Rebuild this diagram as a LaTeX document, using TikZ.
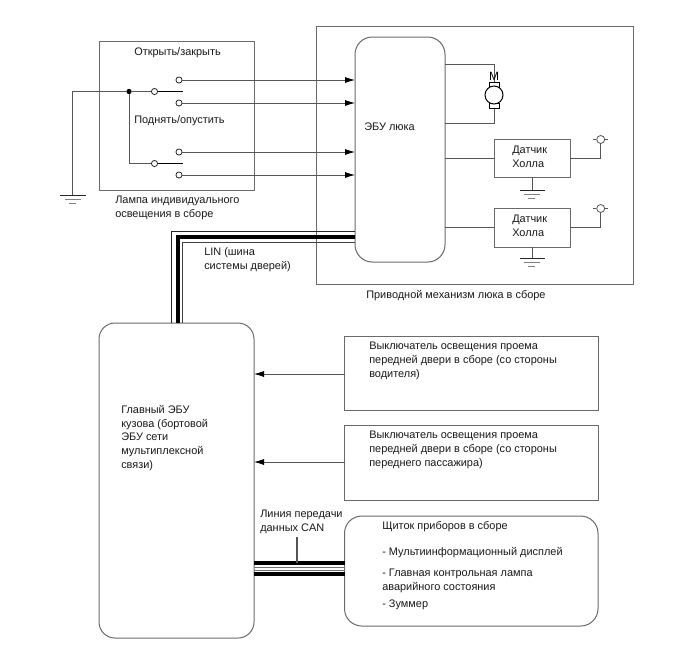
\documentclass[tikz,border=0pt]{standalone}
\usepackage{fontspec}
\setmainfont{Liberation Sans}
\usetikzlibrary{arrows.meta}
\definecolor{wire}{HTML}{555555}
\definecolor{frame}{HTML}{6A6A6A}
\tikzset{
  x=0.75pt, y=-0.75pt,
  lbl/.style={anchor=west, inner sep=0pt, align=left, text=black!90,
    font=\fontsize{8.2}{10.4}\selectfont},
  box/.style={draw=frame, line width=0.75pt, fill=white, anchor=north west, inner sep=0pt, outer sep=0pt},
  conn/.style={draw=wire, line width=0.6pt},
  sig/.style={conn, -{Latex[length=7.5pt,width=4.5pt,black]}},
  contact/.style={circle, draw=black!85, fill=white, line width=0.6pt, minimum size=4.6pt, inner sep=0pt},
  blade/.style={draw=black, line width=1.1pt},
  heavy/.style={draw=black, line width=3pt},
  gnd/.style={draw=black!85, line width=0.75pt},
  gndb/.style={draw=black!50, line width=0.6pt},
}
\newcommand{\boxat}[6][]{\node[box,#1,minimum width=#4*0.75pt,minimum height=#5*0.75pt] (#6) at (#2,#3) {};}
\begin{document}
\begin{tikzpicture}
\useasboundingbox (0,0) rectangle (688,658);
\fill[white] (0,0) rectangle (688,658);

% enclosures
\boxat{316}{26}{317}{258}{drive}
\boxat{99.5}{41}{154.5}{149}{lamp}
\boxat[rounded corners=13pt]{355}{37}{90}{225}{ecu}
\boxat[rounded corners=12pt]{99}{323}{155}{315}{bcm}
\boxat{344.5}{336}{253.5}{74}{doorA}
\boxat{344.5}{425}{253.5}{75}{doorB}
\boxat[rounded corners=13pt]{344.5}{516}{253.5}{110}{meter}
\boxat{494}{139}{76}{38}{hallA}
\boxat{494}{208}{76}{39}{hallB}

% lamp switches
\node[circle,fill=black,inner sep=0pt,minimum size=4pt] (junction) at (129,91.5) {};
\node[contact] (swA) at (154.5,91.5) {};
\node[contact] (swB) at (154.5,163.5) {};
\node[contact] (upA) at (179,80) {};
\node[contact] (dnA) at (179,103) {};
\node[contact] (upB) at (179,152) {};
\node[contact] (dnB) at (179,175) {};
\coordinate (bladeA) at (182.5,91.5);
\coordinate (bladeB) at (182.5,163.5);
\coordinate (lampGnd) at (72.5,195.5);
\draw[conn] (lampGnd) |- (junction);
\draw[conn] (junction) -- (swA);
\draw[conn] (junction) |- (swB);
\draw[blade] (swA) -- (bladeA);
\draw[blade] (swB) -- (bladeB);
\foreach \c in {upA,dnA,upB,dnB}
  \draw[sig] (\c) -- (\c -| ecu.west);

% earth symbols
\draw[gnd] (60,195.5) -- (86,195.5);
\draw[gndb] (65,199.5) -- (81,199.5);
\draw[gndb] (69,203.5) -- (76,203.5);

% motor
\node[draw=black,fill=white,line width=0.75pt,minimum width=10pt*0.75,minimum height=5pt*0.75,inner sep=0pt] (brushT) at (494,84.5) {};
\node[draw=black,fill=white,line width=0.75pt,minimum width=10pt*0.75,minimum height=5pt*0.75,inner sep=0pt] (brushB) at (494,105.5) {};
\node[circle,draw=black,fill=white,line width=0.75pt,minimum size=13.5pt,inner sep=0pt] (motor) at (494,95) {};
\coordinate (motorTop) at (ecu.east |- 0,64.7);
\coordinate (motorBot) at (ecu.east |- 0,123);
\draw[conn] (motorTop) -| (brushT.north);
\draw[conn] (motorBot) -| (brushB.south);
\node[inner sep=0pt,font=\fontsize{9}{10}\selectfont] (motorM) at (494,76.5) {M};

% Hall sensors
\node[circle,draw=wire,fill=white,line width=0.6pt,minimum size=6pt,inner sep=0pt] (supA) at (600.7,139.5) {};
\node[circle,draw=wire,fill=white,line width=0.6pt,minimum size=6pt,inner sep=0pt] (supB) at (600.7,208.5) {};
\draw[conn] (hallA.west) -- (hallA.west -| ecu.east);
\draw[conn] (hallB.west) -- (hallB.west -| ecu.east);
\draw[conn] (hallA.east) -| (supA.south);
\draw[conn] (hallB.east) -| (supB.south);
\draw[conn] (593,139.5) -- (supA.west) (supA.east) -- (608,139.5);
\draw[conn] (593,208.5) -- (supB.west) (supB.east) -- (608,208.5);
\draw[conn] (hallA.south -| 532,0) -- (532,190.5);
\draw[conn] (hallB.south -| 532,0) -- (532,258.5);
\foreach \g in {190.5,258.5}{
  \draw[gnd] (520,\g) -- (545,\g);
  \draw[gndb] (524,\g+3.8) -- (540,\g+3.8);
  \draw[gndb] (528,\g+7.5) -- (535,\g+7.5);
}

% LIN bus
\coordinate (linA) at (171.7,231);
\coordinate (linB) at (177.5,236.5);
\coordinate (linC) at (182.7,242.3);
\draw[draw=black!85,line width=0.75pt] (linA |- bcm.north) -- (linA) -- (linA -| ecu.west);
\draw[heavy] (linB |- bcm.north) -- (linB) -- (linB -| ecu.west);
\draw[draw=black!75,line width=1.1pt] (linC |- bcm.north) -- (linC) -- (linC -| ecu.west);

% door switch signals
\coordinate (doorAout) at (doorA.west |- 0,374);
\coordinate (doorBout) at (doorB.west |- 0,462);
\draw[sig] (doorAout) -- (doorAout -| bcm.east);
\draw[sig] (doorBout) -- (doorBout -| bcm.east);

% CAN bus
\coordinate (canA) at (bcm.east |- 0,563);
\coordinate (canB) at (bcm.east |- 0,567.7);
\coordinate (canC) at (bcm.east |- 0,570.3);
\coordinate (canD) at (bcm.east |- 0,574.3);
\coordinate (canTag) at (297,537);
\draw[heavy] (canA) -- (canA -| meter.west);
\draw[heavy] (canD) -- (canD -| meter.west);
\draw[draw=black!55,line width=0.4pt] (canB) -- (canB -| meter.west);
\draw[draw=black!55,line width=0.4pt] (canC) -- (canC -| meter.west);
\draw[draw=wire,line width=1pt] (canTag) -- (canTag |- canA);

% captions
\node[lbl] (t1) at (134,52.5) {Открыть/закрыть};
\node[lbl] (t2) at (134,121) {Поднять/опустить};
\node[lbl] (t3) at (115,208) {Лампа индивидуального\\освещения в сборе};
\node[lbl] (t4) at (364,126.5) {ЭБУ люка};
\node[lbl] (t5) at (512,156.5) {Датчик\\Холла};
\node[lbl] (t6) at (512,226) {Датчик\\Холла};
\node[lbl] (t7) at (366,295.5) {Приводной механизм люка в сборе};
\node[lbl] (t8) at (204,260) {LIN (шина\\системы дверей)};
\node[lbl] (t9) at (369,361) {Выключатель освещения проема\\передней двери в сборе (со стороны\\водителя)};
\node[lbl] (t10) at (369,450) {Выключатель освещения проема\\передней двери в сборе (со стороны\\переднего пассажира)};
\node[lbl] (t11) at (121,438) {Главный ЭБУ\\кузова (бортовой\\ЭБУ сети\\мультиплексной\\связи)};
\node[lbl] (t12) at (260,522) {Линия передачи\\данных CAN};
\node[lbl] (t13) at (382,526.5) {Щиток приборов в сборе};
\node[lbl] (t14) at (382,552.5) {- Мультиинформационный дисплей};
\node[lbl] (t15) at (382,581) {- Главная контрольная лампа\\аварийного состояния};
\node[lbl] (t16) at (382,604.5) {- Зуммер};
\end{tikzpicture}
\end{document}
